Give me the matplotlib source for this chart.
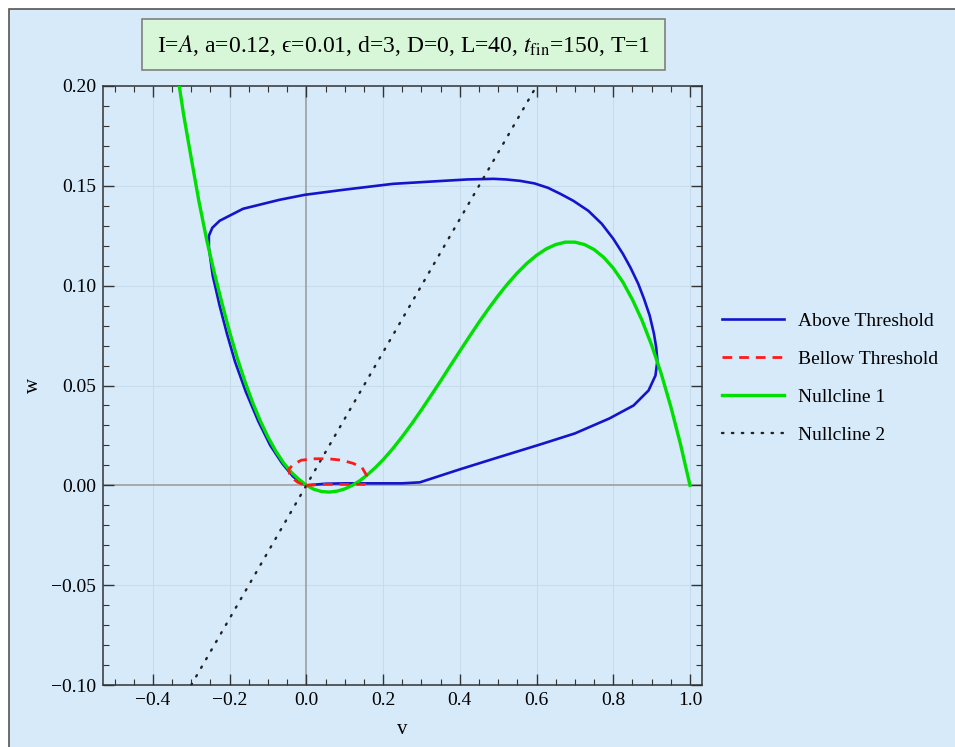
import matplotlib
matplotlib.use("Agg")
import matplotlib.pyplot as plt
from matplotlib.patches import Rectangle
from matplotlib.ticker import MultipleLocator, FuncFormatter

plt.rcParams['font.family'] = ['Liberation Serif', 'DejaVu Serif']
plt.rcParams['mathtext.fontset'] = 'stix'

# trajectory above threshold (v, w)
above_v = [0.0, 0.05, 0.10, 0.15, 0.20, 0.25, 0.296, 0.40, 0.50, 0.61, 0.70, 0.79,
           0.853, 0.892, 0.91, 0.915, 0.912, 0.906, 0.895, 0.88, 0.865, 0.845, 0.825,
           0.80, 0.77, 0.735, 0.696, 0.662, 0.63, 0.595, 0.557, 0.52, 0.488, 0.42,
           0.357, 0.226, 0.096, -0.004, -0.07, -0.165, -0.226, -0.245, -0.254, -0.254,
           -0.244, -0.226, -0.207, -0.186, -0.158, -0.125, -0.094, -0.063, -0.035,
           -0.012, 0.0]
above_w = [0.0, 0.0008, 0.001, 0.001, 0.001, 0.001, 0.0015, 0.008, 0.014, 0.0205,
           0.026, 0.0335, 0.040, 0.0475, 0.055, 0.0625, 0.069, 0.076, 0.085, 0.0935,
           0.101, 0.109, 0.116, 0.1235, 0.131, 0.1375, 0.1425, 0.146, 0.149, 0.1512,
           0.1525, 0.1532, 0.1535, 0.1532, 0.1525, 0.151, 0.148, 0.1455, 0.143, 0.1385,
           0.1325, 0.129, 0.125, 0.119, 0.105, 0.09, 0.076, 0.062, 0.047, 0.032, 0.020,
           0.011, 0.0045, 0.001, 0.0]

# trajectory below threshold
below_v = [0.0, 0.05, 0.10, 0.152, 0.157, 0.145, 0.122, 0.092, 0.057, 0.022, -0.013,
           -0.034, -0.046, -0.044, -0.036, -0.022, -0.008, 0.0]
below_w = [0.0, 0.0005, 0.0005, 0.0005, 0.005, 0.009, 0.011, 0.0126, 0.0133, 0.0133,
           0.0126, 0.0105, 0.008, 0.006, 0.0035, 0.0015, 0.0003, 0.0]

# nullcline 1 (cubic)
null1_v = [-0.34, -0.32, -0.30, -0.28, -0.26, -0.24, -0.22, -0.20, -0.18, -0.16, -0.14,
           -0.12, -0.10, -0.08, -0.06, -0.04, -0.02, 0.0, 0.02, 0.04, 0.06, 0.08, 0.10,
           0.12, 0.14, 0.16, 0.18, 0.20, 0.225, 0.25, 0.275, 0.30, 0.325, 0.35, 0.375,
           0.40, 0.425, 0.45, 0.475, 0.50, 0.525, 0.55, 0.575, 0.60, 0.625, 0.65, 0.675,
           0.70, 0.725, 0.75, 0.775, 0.80, 0.825, 0.85, 0.875, 0.90, 0.925, 0.95, 0.975,
           1.0]
null1_w = [0.2111, 0.1858, 0.1638, 0.1423, 0.1232, 0.1066, 0.0913, 0.0768, 0.0637,
           0.0520, 0.0415, 0.0323, 0.0242, 0.0173, 0.0114, 0.0067, 0.0031, 0.0,
           -0.0020, -0.0031, -0.0034, -0.0029, -0.0018, 0.0, 0.0024, 0.0054, 0.0089,
           0.0128, 0.0183, 0.0244, 0.0309, 0.0378, 0.0450, 0.0523, 0.0598, 0.0672,
           0.0745, 0.0817, 0.0885, 0.0950, 0.1010, 0.1064, 0.1112, 0.1152, 0.1184,
           0.1206, 0.1218, 0.1218, 0.1206, 0.1181, 0.1142, 0.1088, 0.1018, 0.0930,
           0.0826, 0.0702, 0.0559, 0.0394, 0.0208, 0.0]

# nullcline 2 (straight line)
null2_v = [-0.30, 0.60]
null2_w = [-0.10, 0.20]

labels = ["Above Threshold", "Bellow Threshold", "Nullcline 1", "Nullcline 2"]
info = "I=$A$, a=0.12, \u03f5=0.01, d=3, D=0, L=40, $t_{\\mathrm{fin}}$=150, T=1"

bg = '#d6eafa'
W, H = 955, 747
fig = plt.figure(figsize=(W / 100, H / 100), dpi=100)
fig.patch.set_facecolor('white')
fig.patches.append(Rectangle((9 / W, -0.1), 1.2, 1 - 9 / H + 0.1, transform=fig.transFigure,
                             facecolor=bg, edgecolor='#555555', lw=1.2, zorder=-10))
fig.patches.append(Rectangle((142 / W, 1 - 70 / H), 523 / W, 51 / H, transform=fig.transFigure,
                             facecolor='#d8f6d8', edgecolor='#808080', lw=1.2, zorder=1))
fig.text((142 + 665) / 2 / W, 1 - 45 / H, info, ha='center', va='center', fontsize=17)

ax = fig.add_axes([103 / W, 1 - 685 / H, (701.5 - 103) / W, (685 - 86) / H])
ax.set_facecolor(bg)
ax.set_xlim(-0.53, 1.03)
ax.set_ylim(-0.1, 0.2)

for g in [-0.4, -0.2, 0.2, 0.4, 0.6, 0.8, 1.0]:
    ax.axvline(g, color='#c6dcec', lw=0.8, zorder=0)
for g in [-0.05, 0.05, 0.1, 0.15]:
    ax.axhline(g, color='#c6dcec', lw=0.8, zorder=0)
ax.axhline(0, color='#999999', lw=1.1, zorder=1)
ax.axvline(0, color='#999999', lw=1.1, zorder=1)

ax.plot(above_v, above_w, color='#1414cc', lw=1.9, label=labels[0], zorder=3)
ax.plot(below_v, below_w, color='#ff1a1a', lw=2.0, ls=(0, (3.5, 2.5)), label=labels[1], zorder=4)
ax.plot(null1_v, null1_w, color='#00e000', lw=2.4, label=labels[2], zorder=3)
ax.plot(null2_v, null2_w, color='#222222', lw=1.7, ls=(0, (0.6, 3.6)),
        dash_capstyle='round', label=labels[3], zorder=3)

ax.xaxis.set_major_locator(MultipleLocator(0.2))
ax.xaxis.set_minor_locator(MultipleLocator(0.05))
ax.yaxis.set_major_locator(MultipleLocator(0.05))
ax.yaxis.set_minor_locator(MultipleLocator(0.01))
ax.xaxis.set_major_formatter(FuncFormatter(lambda x, p: f"{x:.1f}".replace('-', '\u2212')))
ax.yaxis.set_major_formatter(FuncFormatter(lambda y, p: f"{y:.2f}".replace('-', '\u2212')))
ax.tick_params(which='both', direction='in', top=True, right=True, labelsize=14,
               color='#333333', pad=5)
ax.tick_params(which='major', length=8, width=1)
ax.tick_params(which='minor', length=4, width=0.8)
for s in ax.spines.values():
    s.set_color('#333333')
    s.set_linewidth(1.1)

ax.set_xlabel('v', fontsize=15, labelpad=8)
ax.set_ylabel('w', fontsize=15, labelpad=6)

fig.legend(loc='upper left', bbox_to_anchor=(722 / W, 1 - 312 / H), frameon=False,
           fontsize=14, handlelength=3.2, handletextpad=0.7, labelspacing=1.05,
           borderpad=0, borderaxespad=0)

fig.savefig('out.png', dpi=100, facecolor=fig.get_facecolor())
